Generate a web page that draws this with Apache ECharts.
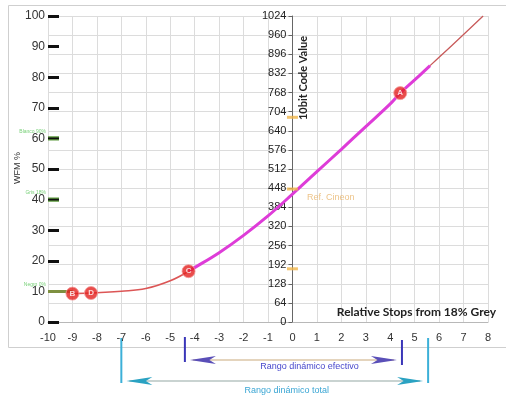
<!DOCTYPE html>
<html>
<head>
<meta charset="utf-8">
<script src="https://cdn.jsdelivr.net/npm/echarts@6/dist/echarts.min.js"></script>
<style>
  html, body { margin: 0; padding: 0; background: #fff; }
  #chart { width: 506px; height: 400px; }
</style>
</head>
<body>
<div id="chart"></div>
<script>
// Log transfer curve: relative stops from 18% grey vs 10-bit code value
const stops = [-9, -8.24, -8, -7, -6, -5, -4.25, -4, -3, -2, -1, 0, 1, 2, 3, 4, 4.41, 5, 5.63, 6, 7, 7.8];
const codes = [95, 97, 98, 103, 112, 138, 170, 182, 232, 290, 355, 428, 503, 578, 654, 730, 766, 810, 858, 886, 962, 1024];
const toeEnd = 6;        // index where the toe (thin red) ends and the magenta body starts
const shoulderStart = 18; // index where the magenta body ends

// Labelled points on the curve
const markerNames = ['A', 'B', 'C', 'D'];
const markerStops = [4.41, -9, -4.25, -8.24];
const markerCodes = [766, 95, 170, 97];

// Cineon reference marks on the code axis
const cineonCodes = [445, 685, 178];

// Waveform reference levels (WFM %)
const wfmLevels = [60, 40, 10];
const wfmLevelNames = ['Blanco 90%', 'Gris 18%', 'Negro 0%'];

// Dynamic ranges in stops
const effectiveRange = [-4.4, 4.48];
const totalRange = [-7, 5.55];

const xTicks = { min: -10, max: 8, interval: 1 };
const codeTicks = { min: 0, max: 1024, interval: 64 };
const wfmTicks = { min: 0, max: 100, interval: 10 };

const pairs = (a, b, from, to) => a.slice(from, to).map((v, i) => [v, b[from + i]]);

const chart = echarts.init(document.getElementById('chart'), null, { renderer: 'canvas' });

const labelFont = 'Liberation Sans';
const gridLeft = 48;

const option = {
  animation: false,
  backgroundColor: '#ffffff',
  grid: { left: gridLeft, right: 18, top: 16, bottom: 78, containLabel: false },
  xAxis: {
    type: 'value', min: xTicks.min, max: xTicks.max, interval: xTicks.interval,
    axisLine: { show: true, onZero: false, lineStyle: { color: '#b8b8b8' } },
    axisTick: { show: false },
    axisLabel: { color: '#333', fontSize: 11, fontFamily: labelFont, margin: 10 },
    splitLine: { show: true, lineStyle: { color: '#dcdcdc', width: 1 } }
  },
  yAxis: [
    {
      type: 'value', min: codeTicks.min, max: codeTicks.max, interval: codeTicks.interval,
      position: 'left', offset: 0,
      axisLine: { show: true, onZero: false, lineStyle: { color: '#666', width: 1 } },
      axisTick: { show: true, length: 4, lineStyle: { color: '#666' } },
      axisLabel: { color: '#222', fontSize: 11, fontFamily: labelFont, margin: 6, formatter: v => String(v) },
      splitLine: { show: true, lineStyle: { color: '#dcdcdc', width: 1 } }
    },
    {
      type: 'value', min: wfmTicks.min, max: wfmTicks.max, interval: wfmTicks.interval,
      position: 'left', offset: 0,
      axisLine: { show: false, onZero: false },
      axisTick: { show: true, inside: true, length: 11, lineStyle: { color: '#111', width: 3 } },
      axisLabel: { color: '#333', fontSize: 12, fontFamily: labelFont, margin: 3 },
      splitLine: { show: false }
    }
  ],
  series: [
    {
      type: 'line', name: 'toe', yAxisIndex: 0, smooth: 0.4, symbol: 'none',
      data: pairs(stops, codes, 0, toeEnd + 1),
      lineStyle: { color: '#dc5656', width: 1.6 }, z: 3
    },
    {
      type: 'line', name: 'body', yAxisIndex: 0, smooth: 0.4, symbol: 'none',
      data: pairs(stops, codes, toeEnd, shoulderStart + 1),
      lineStyle: { color: '#de3cd8', width: 3 }, z: 4
    },
    {
      type: 'line', name: 'shoulder', yAxisIndex: 0, smooth: 0.4, symbol: 'none',
      data: pairs(stops, codes, shoulderStart, stops.length),
      lineStyle: { color: '#c85a5a', width: 1.3 }, z: 3
    },
    // Waveform reference ticks (green) on the WFM axis
    ...wfmLevels.slice(0, 2).map(lv => ({
      type: 'line', yAxisIndex: 1, symbol: 'none', silent: true,
      data: [[-10, lv - 0.5], [-9.55, lv - 0.5]],
      lineStyle: { color: '#5c9a3c', width: 1.3 }, z: 6
    })),
    ...wfmLevels.slice(0, 2).map(lv => ({
      type: 'line', yAxisIndex: 1, symbol: 'none', silent: true,
      data: [[-10, lv + 0.5], [-9.55, lv + 0.5]],
      lineStyle: { color: '#5c9a3c', width: 1.3 }, z: 6
    })),
    {
      type: 'line', yAxisIndex: 1, symbol: 'none', silent: true,
      data: [[-10, wfmLevels[2]], [-9, wfmLevels[2]]],
      lineStyle: { color: '#7e9040', width: 3 }, z: 6
    },
    // Cineon reference dashes
    {
      type: 'scatter', yAxisIndex: 0, symbol: 'rect', symbolSize: [11, 3],
      data: cineonCodes.map((c, i) => ({
        value: [0, c],
        label: i === 0 ? {
          show: true, formatter: 'Ref. Cineon', position: 'right', offset: [4, 8],
          color: '#e9b46a', fontSize: 9, fontFamily: labelFont
        } : { show: false }
      })),
      itemStyle: { color: '#f0b54a' }, z: 7
    },
    // Labelled points
    {
      type: 'scatter', yAxisIndex: 0, symbol: 'circle', symbolSize: 13,
      data: markerNames.map((n, i) => ({ name: n, value: [markerStops[i], markerCodes[i]] })),
      itemStyle: { color: '#e3201e', borderColor: '#f39a9a', borderWidth: 1 },
      label: {
        show: true, position: 'inside', formatter: '{b}',
        color: '#fff', fontSize: 8, fontWeight: 'bold', fontFamily: labelFont
      },
      z: 8
    }
  ]
};

chart.setOption(option);

// Decorations placed through the chart's own coordinate conversion
const px = (x, code) => chart.convertToPixel({ xAxisIndex: 0, yAxisIndex: 0 }, [x, code]);
const wfmY = v => chart.convertToPixel({ yAxisIndex: 1 }, v);
const stopX = x => px(x, 0)[0];

const axisOriginX = stopX(0);
// move the code-value axis onto the 0-stop line
chart.setOption({ yAxis: [{ offset: -(axisOriginX - gridLeft) }, {}] });

function arrowHead(tipX, y, dir, color) {
  const L = 26, h = 4;
  const back = tipX + dir * L, notch = tipX + dir * L * 0.75;
  return {
    type: 'polygon',
    shape: { points: [[tipX, y], [back, y - h], [notch, y], [back, y + h]] },
    style: { fill: color }
  };
}

const topCode = px(0, 1024)[1];
const baseY = px(0, 0)[1];

const effY = baseY + 38, totY = baseY + 59;
const effL = stopX(effectiveRange[0]), effR = stopX(effectiveRange[1]);
const totL = stopX(totalRange[0]), totR = stopX(totalRange[1]);

const graphics = [
  { type: 'rect', shape: { x: 8.5, y: 5.5, width: 500, height: 342 },
    style: { fill: null, stroke: '#cfcfcf', lineWidth: 1 }, z: -10 },
  { type: 'text', x: axisOriginX + 11, y: topCode + 62, rotation: Math.PI / 2,
    style: { text: '10bit Code Value', fill: '#222', font: 'bold 11px Lato', textAlign: 'center', textVerticalAlign: 'middle' } },
  { type: 'text', x: 18, y: 168, rotation: Math.PI / 2,
    style: { text: 'WFM %', fill: '#333', font: '9px ' + labelFont, textAlign: 'center', textVerticalAlign: 'middle' } },
  { type: 'text', x: 496, y: baseY - 10,
    style: { text: 'Relative Stops from 18% Grey', fill: '#222', font: 'bold 12px Lato', textAlign: 'right', textVerticalAlign: 'middle' } },
  // effective range
  { type: 'line', shape: { x1: effL, y1: baseY + 15, x2: effL, y2: baseY + 40 }, style: { stroke: '#3a36b8', lineWidth: 2 } },
  { type: 'line', shape: { x1: effR, y1: baseY + 18, x2: effR, y2: baseY + 43 }, style: { stroke: '#3a36b8', lineWidth: 2 } },
  { type: 'line', shape: { x1: effL + 8, y1: effY, x2: effR - 8, y2: effY }, style: { stroke: '#c9a97c', lineWidth: 1.2 } },
  arrowHead(effL + 5, effY, 1, '#5a4fb8'),
  arrowHead(effR - 5, effY, -1, '#5a4fb8'),
  { type: 'text', x: (effL + effR) / 2 + 16, y: effY + 7,
    style: { text: 'Rango dinámico efectivo', fill: '#4848cc', font: '9px ' + labelFont, textAlign: 'center', textVerticalAlign: 'middle' } },
  // total range
  { type: 'line', shape: { x1: totL, y1: baseY + 16, x2: totL, y2: baseY + 61 }, style: { stroke: '#3cb0d8', lineWidth: 2 } },
  { type: 'line', shape: { x1: totR, y1: baseY + 16, x2: totR, y2: baseY + 61 }, style: { stroke: '#3cb0d8', lineWidth: 2 } },
  { type: 'line', shape: { x1: totL + 8, y1: totY, x2: totR - 8, y2: totY }, style: { stroke: '#94a8a4', lineWidth: 1.2 } },
  arrowHead(totL + 5, totY, 1, '#2aa2c2'),
  arrowHead(totR - 5, totY, -1, '#2aa2c2'),
  { type: 'text', x: (totL + totR) / 2 + 12, y: totY + 10,
    style: { text: 'Rango dinámico total', fill: '#3aa6d4', font: '9px ' + labelFont, textAlign: 'center', textVerticalAlign: 'middle' } }
];

// green level names next to the WFM axis
wfmLevels.forEach((lv, i) => {
  graphics.push({
    type: 'text', x: 46, y: wfmY(lv) - 7,
    style: { text: wfmLevelNames[i], fill: '#78d078', font: '5px ' + labelFont, textAlign: 'right', textVerticalAlign: 'middle' }
  });
});

chart.setOption({ graphic: graphics });
</script>
</body>
</html>
